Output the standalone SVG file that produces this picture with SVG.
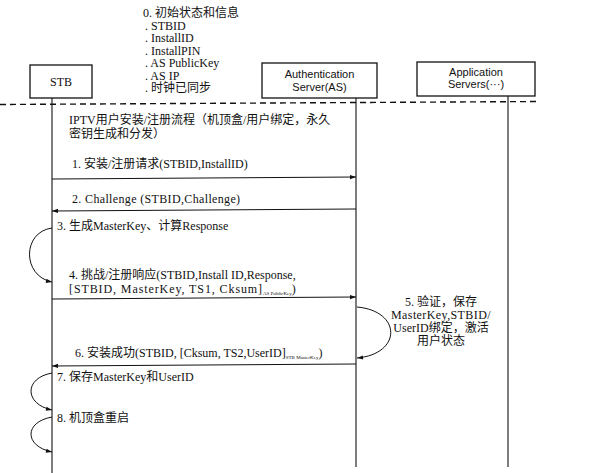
<svg xmlns="http://www.w3.org/2000/svg" width="598" height="473" viewBox="0 0 598 473">
<style>
.t{font-family:"Liberation Serif","Noto Sans CJK SC",serif;font-size:12px;fill:#111}
.s{font-family:"Liberation Sans","Noto Sans CJK SC",sans-serif;font-size:11px;fill:#111;text-anchor:middle}
.box{fill:#fff;stroke:#111;stroke-width:1.3}
.life{stroke:#111;stroke-width:1.1;fill:none}
.msg{stroke:#111;stroke-width:1;fill:none;marker-end:url(#ah)}
.sub{font-size:5px;letter-spacing:0}
</style>
<defs>
<marker id="ah" viewBox="0 0 10 10" refX="10" refY="5" markerWidth="9" markerHeight="6" markerUnits="userSpaceOnUse" orient="auto">
<path d="M0,1.5 L10,5 L0,8.5 Z" fill="#111"/>
</marker>
</defs>
<rect width="598" height="473" fill="#fff"/>

<g id="init-info">
<text class="t" x="143" y="17">0. 初始状态和信息</text>
<text class="t" x="145" y="29.5">. STBID</text>
<text class="t" x="145" y="42">. InstallID</text>
<text class="t" x="145" y="54.5">. InstallPIN</text>
<text class="t" x="145" y="67">. AS PublicKey</text>
<text class="t" x="145" y="79.5">. AS IP</text>
<text class="t" x="145" y="92">. 时钟已同步</text>
</g>

<g id="lifelines">
<line class="life" x1="52" y1="98" x2="52" y2="473"/>
<line class="life" x1="356" y1="98" x2="356" y2="467"/>
<line class="life" x1="508" y1="96" x2="508" y2="467"/>
</g>

<g id="STB">
<rect class="box" x="30" y="65" width="62" height="33"/>
<text class="t" x="61" y="86" text-anchor="middle" font-size="11">STB</text>
</g>
<g id="AS">
<rect class="box" x="262" y="63" width="115" height="35"/>
<text class="s" x="319.5" y="78">Authentication</text>
<text class="s" x="319.5" y="91">Server(AS)</text>
</g>
<g id="AppServers">
<rect class="box" x="417" y="62" width="118" height="34"/>
<text class="s" x="476" y="76">Application</text>
<text class="s" x="476" y="88">Servers(···)</text>
</g>

<line x1="0" y1="104.5" x2="540" y2="101.5" stroke="#111" stroke-width="1.4" stroke-dasharray="6,4"/>

<g id="labels">
<text class="t" x="69" y="124">IPTV用户安装/注册流程（机顶盒/用户绑定，永久</text>
<text class="t" x="69" y="138">密钥生成和分发）</text>
<text class="t" x="72" y="168">1. 安装/注册请求(STBID,InstallID)</text>
<text class="t" x="72" y="203" letter-spacing="0.35">2. Challenge  (STBID,Challenge)</text>
<text class="t" x="57" y="230">3. 生成MasterKey、计算Response</text>
<text class="t" x="69" y="279">4. 挑战/注册响应(STBID,Install ID,Response,</text>
<text class="t" x="69" y="293" letter-spacing="0.9">[STBID, MasterKey, TS1, Cksum]<tspan class="sub" dy="2">AS PublicKey</tspan><tspan dy="-2">)</tspan></text>
<text class="t" x="75" y="357">6. 安装成功(STBID, [Cksum, TS2,UserID]<tspan class="sub" dy="2">STB MasterKey</tspan><tspan dy="-2">)</tspan></text>
<text class="t" x="57" y="381">7. 保存MasterKey和UserID</text>
<text class="t" x="57" y="422">8. 机顶盒重启</text>
<text class="t" x="441" y="306" text-anchor="middle">5. 验证，保存</text>
<text class="t" x="441" y="319" text-anchor="middle" letter-spacing="0.4">MasterKey,STBID/</text>
<text class="t" x="441" y="332" text-anchor="middle">UserID绑定，激活</text>
<text class="t" x="441" y="345" text-anchor="middle">用户状态</text>
</g>

<g id="connectors">
<line class="msg" x1="52" y1="179" x2="356" y2="177"/>
<line class="msg" x1="356" y1="209" x2="52" y2="211"/>
<line class="msg" x1="52" y1="299" x2="356" y2="297"/>
<line class="msg" x1="356" y1="364" x2="52" y2="366"/>
<path class="msg" d="M52,228 C22,232 22,276 52,282"/>
<path class="msg" d="M357,307 C402,311 402,354 357,358"/>
<path class="msg" d="M52,373 C24,378 24,404 52,410"/>
<path class="msg" d="M52,417 C24,422 24,446 52,452"/>
</g>
</svg>
